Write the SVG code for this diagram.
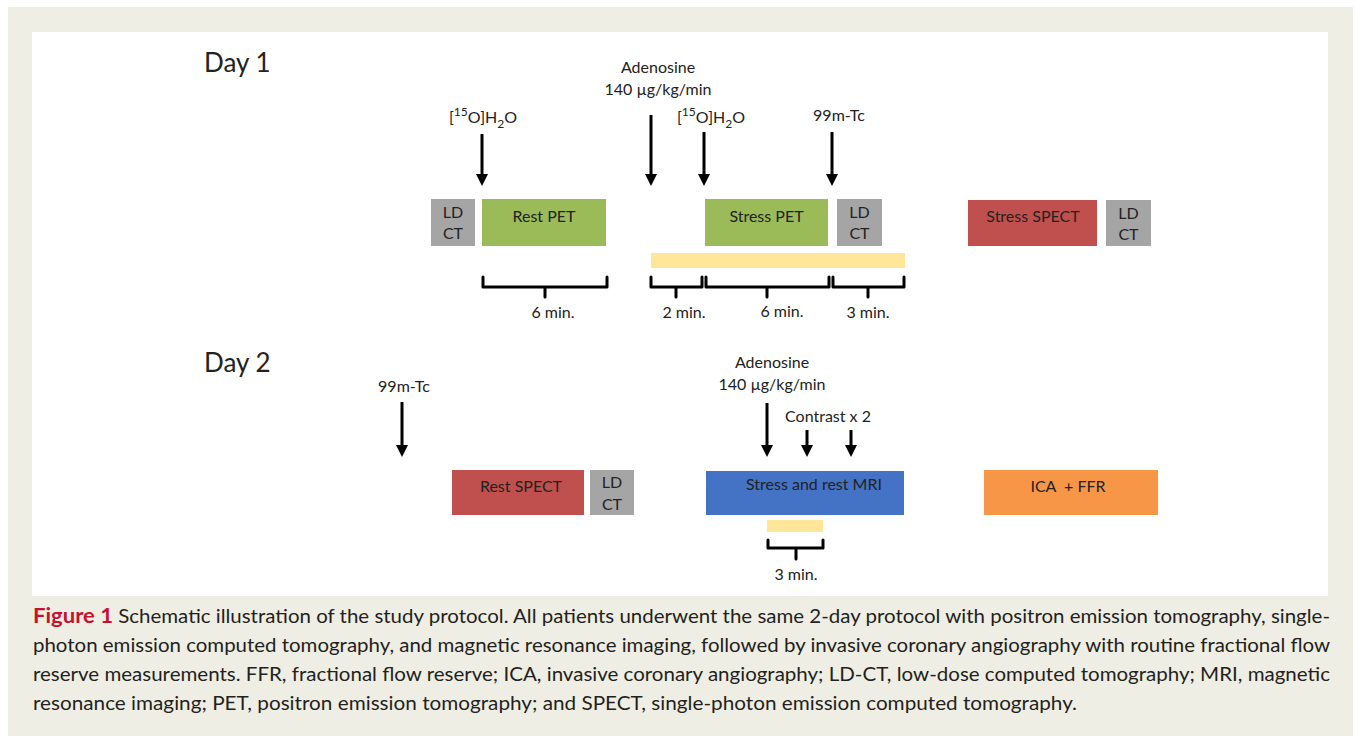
<svg xmlns="http://www.w3.org/2000/svg" width="1355" height="737" viewBox="0 0 1355 737">
<defs>
<style>
.t{font-family:Lato,"Open Sans","DejaVu Sans",sans-serif;fill:#222222;font-size:16px;text-anchor:middle}
.day{font-size:26px;text-anchor:start}
.cap{font-family:Lato,"Open Sans","DejaVu Sans",sans-serif;fill:#231f20;font-size:19.5px}
.fig{fill:#c8102e;font-weight:bold;font-size:21px}
.ar{stroke:#000;stroke-width:3;fill:none;marker-end:url(#ah)}
.br{stroke:#000;stroke-width:3;fill:none;stroke-linejoin:round;stroke-linecap:round}
.ld{fill:#a5a5a5}
.pet{fill:#9bbb59}
.spect{fill:#c0504d}
.mri{fill:#4472c4}
.ica{fill:#f79646}
.yel{fill:#ffe699}
</style>
<marker id="ah" markerUnits="userSpaceOnUse" markerWidth="12" markerHeight="14" viewBox="0 0 12 14" refX="1" refY="7" orient="auto">
<path d="M0,1 L12,7 L0,13 Z" fill="#000"/>
</marker>
</defs>
<rect x="0" y="0" width="1355" height="737" fill="#ffffff"/>
<rect x="8" y="7" width="1345" height="729" fill="#efeee4"/>
<rect x="32" y="32" width="1296" height="564" fill="#ffffff"/>

<text class="t day" x="204" y="72">Day 1</text>
<text class="t day" x="204" y="372">Day 2</text>

<g id="connectors">
<line class="ar" x1="482" y1="134" x2="482" y2="175"/>
<line class="ar" x1="651" y1="115" x2="651" y2="175"/>
<line class="ar" x1="704" y1="132" x2="704" y2="175"/>
<line class="ar" x1="832" y1="132" x2="832" y2="175"/>
<line class="ar" x1="402" y1="402" x2="402" y2="446"/>
<line class="ar" x1="767" y1="403" x2="767" y2="446"/>
<line class="ar" x1="807" y1="430" x2="807" y2="446"/>
<line class="ar" x1="851" y1="430" x2="851" y2="446"/>
<path class="br" d="M483,277 V287 H607 V277 M545,287 V297"/>
<path class="br" d="M651,277 V287 H702 V277 M676,287 V297"/>
<path class="br" d="M706,277 V287 H829 V277 M767,287 V297"/>
<path class="br" d="M833,277 V287 H904 V277 M868,287 V297"/>
<path class="br" d="M768,540 V548 H823 V540 M796,548 V559"/>
</g>

<g id="labels">
<text class="t" x="483" y="123" font-size="18">[<tspan font-size="12" dy="-7">15</tspan><tspan dy="7">O]H</tspan><tspan font-size="12" dy="5">2</tspan><tspan dy="-5">O</tspan></text>
<text class="t" x="711" y="123" font-size="18">[<tspan font-size="12" dy="-7">15</tspan><tspan dy="7">O]H</tspan><tspan font-size="12" dy="5">2</tspan><tspan dy="-5">O</tspan></text>
<text class="t" x="658" y="73">Adenosine</text>
<text class="t" x="658" y="95">140 µg/kg/min</text>
<text class="t" x="839" y="121" font-size="15.5">99m-Tc</text>
<text class="t" x="553" y="318" font-size="15.5">6 min.</text>
<text class="t" x="684" y="318" font-size="15.5">2 min.</text>
<text class="t" x="782" y="317" font-size="15.5">6 min.</text>
<text class="t" x="868" y="318" font-size="15.5">3 min.</text>
<text class="t" x="404" y="392" font-size="15.5">99m-Tc</text>
<text class="t" x="772" y="368">Adenosine</text>
<text class="t" x="772" y="390">140 µg/kg/min</text>
<text class="t" x="828" y="422">Contrast x 2</text>
<text class="t" x="796" y="580" font-size="15.5">3 min.</text>
</g>

<g id="ldct1"><rect class="ld" x="431" y="199" width="44" height="47"/><text class="t" x="453" y="218">LD</text><text class="t" x="453" y="239">CT</text></g>
<g id="restpet"><rect class="pet" x="482" y="199" width="124" height="47"/><text class="t" x="544" y="222">Rest PET</text></g>
<g id="stresspet"><rect class="pet" x="705" y="199" width="123" height="47"/><text class="t" x="766.5" y="222">Stress PET</text></g>
<g id="ldct2"><rect class="ld" x="837" y="199" width="45" height="47"/><text class="t" x="859.5" y="218">LD</text><text class="t" x="859.5" y="239">CT</text></g>
<g id="stressspect"><rect class="spect" x="968" y="200" width="129" height="46"/><text class="t" x="1033" y="222">Stress SPECT</text></g>
<g id="ldct3"><rect class="ld" x="1106" y="200" width="45" height="46"/><text class="t" x="1128.5" y="219">LD</text><text class="t" x="1128.5" y="240">CT</text></g>
<g id="adenobar1"><rect class="yel" x="651" y="253" width="254" height="15"/></g>

<g id="restspect"><rect class="spect" x="452" y="470" width="132" height="45"/><text class="t" x="521" y="492">Rest SPECT</text></g>
<g id="ldct4"><rect class="ld" x="590" y="470" width="44" height="45"/><text class="t" x="612" y="488">LD</text><text class="t" x="612" y="510">CT</text></g>
<g id="mri"><rect class="mri" x="706" y="471" width="198" height="44"/><text class="t" x="814" y="490">Stress and rest MRI</text></g>
<g id="icaffr"><rect class="ica" x="984" y="470" width="174" height="45"/><text class="t" x="1068" y="492">ICA&#160; + FFR</text></g>
<g id="adenobar2"><rect class="yel" x="767" y="520" width="56" height="12"/></g>

<g id="caption">
<text class="cap" x="33" y="623" textLength="1297" lengthAdjust="spacingAndGlyphs"><tspan class="fig">Figure 1</tspan> Schematic illustration of the study protocol. All patients underwent the same 2-day protocol with positron emission tomography, single-</text>
<text class="cap" x="33" y="652" textLength="1297" lengthAdjust="spacingAndGlyphs">photon emission computed tomography, and magnetic resonance imaging, followed by invasive coronary angiography with routine fractional flow</text>
<text class="cap" x="33" y="681" textLength="1297" lengthAdjust="spacingAndGlyphs">reserve measurements. FFR, fractional flow reserve; ICA, invasive coronary angiography; LD-CT, low-dose computed tomography; MRI, magnetic</text>
<text class="cap" x="33" y="710" textLength="1044" lengthAdjust="spacingAndGlyphs">resonance imaging; PET, positron emission tomography; and SPECT, single-photon emission computed tomography.</text>
</g>
</svg>
